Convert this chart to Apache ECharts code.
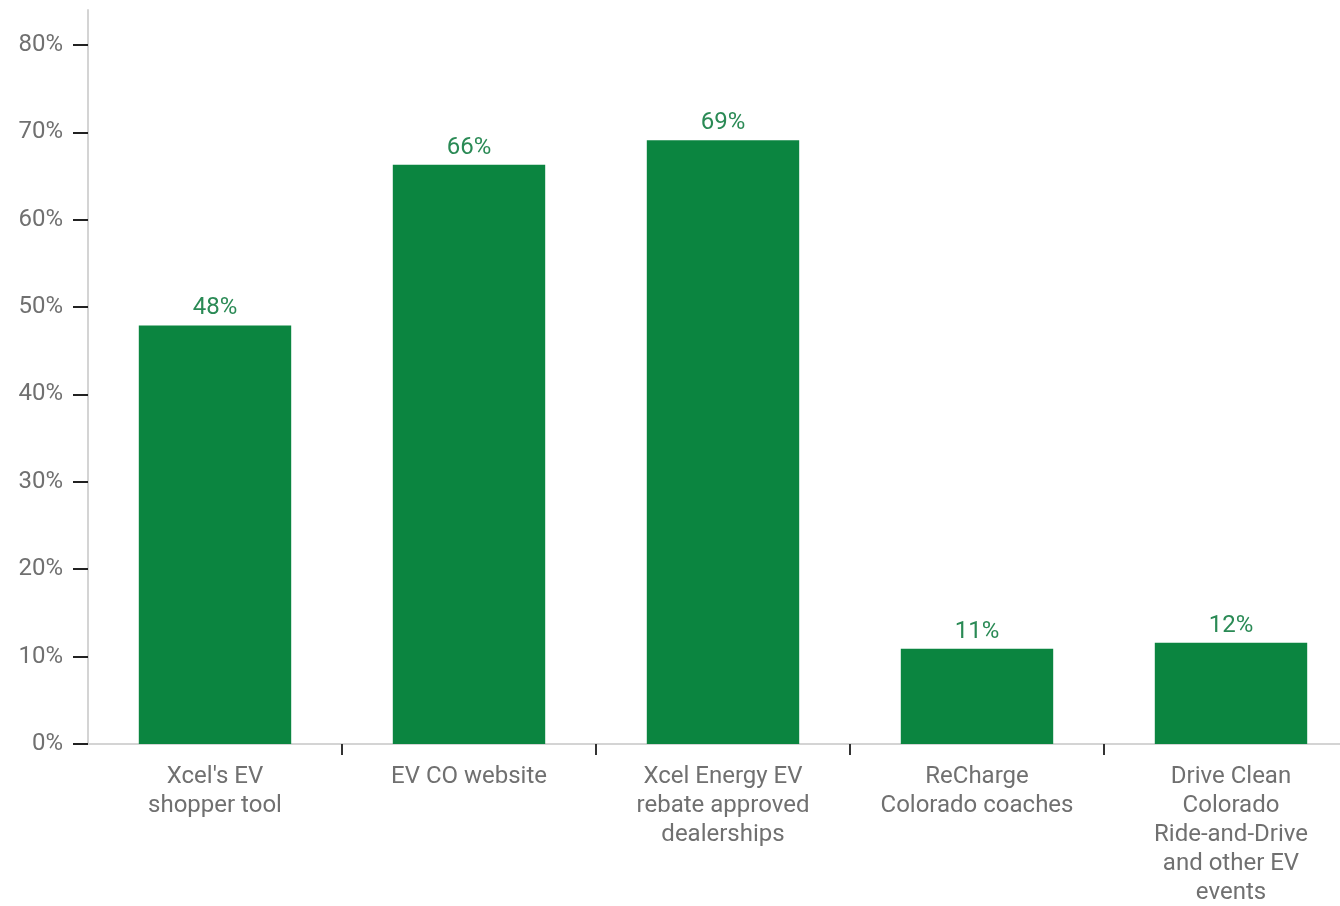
<!DOCTYPE html>
<html>
<head>
<meta charset="utf-8">
<script src="https://cdn.jsdelivr.net/npm/echarts@6/dist/echarts.min.js"></script>
<style>html,body{margin:0;padding:0;background:#fff}#c{width:1340px;height:906px}</style>
</head>
<body>
<div id="c"></div>
<script>
const categories = [
  "Xcel's EV\nshopper tool",
  "EV CO website",
  "Xcel Energy EV\nrebate approved\ndealerships",
  "ReCharge\nColorado coaches",
  "Drive Clean\nColorado\nRide-and-Drive\nand other EV\nevents"
];
const values = [47.9, 66.3, 69.1, 10.9, 11.6];
const yTicks = [0, 10, 20, 30, 40, 50, 60, 70, 80];

const FONT = "Roboto, sans-serif";
const chart = echarts.init(document.getElementById('c'), null, {renderer: 'canvas'});
chart.setOption({
  animation: false,
  backgroundColor: '#ffffff',
  grid: {left: 88, top: 10, width: 1270, height: 734, containLabel: false, outerBoundsMode: 'none'},
  xAxis: {
    type: 'category',
    data: categories,
    axisLine: {lineStyle: {color: '#d4d4d4', width: 2}},
    axisTick: {show: true, length: 11, lineStyle: {color: '#333', width: 2},
      interval: function (i) { return i !== 0; }},
    axisLabel: {color: '#707070', fontFamily: FONT, fontSize: 24, lineHeight: 29, margin: 18,
      interval: 0}
  },
  yAxis: {
    type: 'value',
    min: 0, max: 84, interval: 10,
    splitLine: {show: false},
    axisLine: {show: true, lineStyle: {color: '#d4d4d4', width: 2}},
    axisTick: {show: true, length: 15, customValues: yTicks, lineStyle: {color: '#222', width: 2}},
    axisLabel: {customValues: yTicks, color: '#707070', fontFamily: FONT, fontSize: 24, margin: 25,
      formatter: v => v + '%'}
  },
  series: [{
    type: 'bar',
    data: values,
    barWidth: '60%',
    itemStyle: {color: '#0b8540'},
    label: {show: true, position: 'top', distance: 5, color: '#2a8a55', fontFamily: FONT, fontSize: 24,
      formatter: p => Math.round(p.value) + '%'}
  }]
});
</script>
</body>
</html>
